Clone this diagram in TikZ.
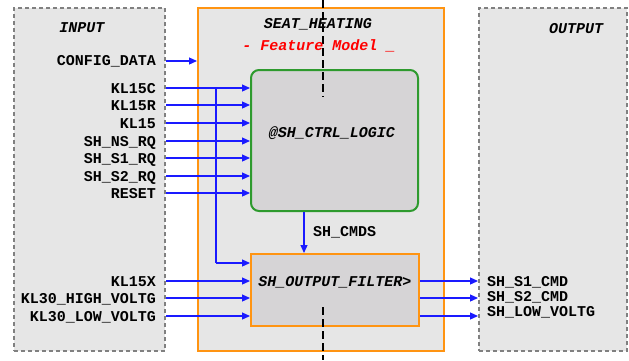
\documentclass[tikz,border=0pt]{standalone}
\usepackage{fontspec}
\setmonofont{Liberation Mono}
\usetikzlibrary{arrows.meta}
\definecolor{boxgray}{HTML}{E6E6E6}
\definecolor{innergray}{HTML}{D6D4D6}
\definecolor{borgray}{HTML}{808080}
\definecolor{orng}{HTML}{FF9412}
\definecolor{grn}{HTML}{2E9A2E}
\definecolor{sig}{HTML}{1A1AFF}
\tikzset{
  lbl/.style={font=\ttfamily\bfseries\fontsize{15}{17}\selectfont, inner sep=0pt, text height=10pt, text depth=0pt},
  ilbl/.style={font=\ttfamily\bfseries\itshape\fontsize{15}{17}\selectfont, inner sep=0pt},
  portbox/.style={draw=borgray, fill=boxgray, line width=2pt, dash pattern=on 4pt off 3pt},
  sig/.style={draw=sig, line width=1.2pt, -{Triangle[length=8pt,width=7pt]}},
  sigline/.style={draw=sig, line width=1.2pt},
}
\begin{document}
\begin{tikzpicture}[x=1pt,y=-1pt]
\useasboundingbox (0,0) rectangle (629,360);
% boxes
\node[portbox, minimum width=151pt, minimum height=343pt, anchor=north west, inner sep=0pt] (inbox) at (13,7) {};
\node[portbox, minimum width=148pt, minimum height=343pt, anchor=north west, inner sep=0pt] (outbox) at (478,7) {};
\node[draw=orng, fill=boxgray, line width=2pt, minimum width=246pt, minimum height=343pt, anchor=north west, inner sep=0pt] (seat) at (197,7) {};
\node[draw=grn, fill=innergray, line width=2pt, rounded corners=8pt, minimum width=167pt, minimum height=141pt, anchor=north west, inner sep=0pt] (logic) at (250,69) {};
\node[draw=orng, fill=innergray, line width=2pt, minimum width=168pt, minimum height=72pt, anchor=north west, inner sep=0pt] (filter) at (250,253) {};
% dashed centre line
\coordinate (dtop) at (323,0);
\coordinate (dmid) at (323,97);
\coordinate (dlow) at (323,307);
\coordinate (dbot) at (323,360);
\draw[line width=1.6pt, dash pattern=on 8pt off 4pt] (dtop) -- (dmid);
\draw[line width=1.6pt, dash pattern=on 8pt off 4pt] (dlow) -- (dbot);
% titles
\node[ilbl] (tin) at (82,28) {INPUT};
\node[ilbl] (tout) at (576,29) {OUTPUT};
\node[ilbl] (tseat) at (318,24) {SEAT\_HEATING};
\node[ilbl, text=red] (tfm) at (319,46) {- Feature Model \_};
\node[ilbl] (tlogic) at (332,133) {@SH\_CTRL\_LOGIC};
\node[ilbl] (tfilter) at (335,282) {SH\_OUTPUT\_FILTER>};
\node[lbl, anchor=west] (tcmds) at (313,231) {SH\_CMDS};
% input labels
\node[lbl, anchor=east] (cfg) at (156,60) {CONFIG\_DATA};
\node[lbl, anchor=east] (kc) at (156,88) {KL15C};
\node[lbl, anchor=east] (kr) at (156,105) {KL15R};
\node[lbl, anchor=east] (k) at (156,123) {KL15};
\node[lbl, anchor=east] (ns) at (156,141) {SH\_NS\_RQ};
\node[lbl, anchor=east] (s1) at (156,158) {SH\_S1\_RQ};
\node[lbl, anchor=east] (s2) at (156,176) {SH\_S2\_RQ};
\node[lbl, anchor=east] (rst) at (156,193) {RESET};
\node[lbl, anchor=east] (kx) at (156,281) {KL15X};
\node[lbl, anchor=east] (kh) at (156,298) {KL30\_HIGH\_VOLTG};
\node[lbl, anchor=east] (kl) at (156,316) {KL30\_LOW\_VOLTG};
% output labels
\node[lbl, anchor=west] (o1) at (487,281) {SH\_S1\_CMD};
\node[lbl, anchor=west] (o2) at (487,296) {SH\_S2\_CMD};
\node[lbl, anchor=west] (o3) at (487,311) {SH\_LOW\_VOLTG};
% input arrows
\draw[sig] (inbox.east |- 0,61) -- (seat.west |- 0,61);
\foreach \n/\yy in {kc/88, kr/105, k/123, ns/141, s1/158, s2/176, rst/193}{
  \draw[sig] (inbox.east |- 0,\yy) -- (logic.west |- 0,\yy);
}
\foreach \n/\yy in {kx/281, kh/298, kl/316}{
  \draw[sig] (inbox.east |- 0,\yy) -- (filter.west |- 0,\yy);
}
\coordinate (br) at (216,88);
\coordinate (brend) at (216,263);
\draw[sigline] (br) -- (brend);
\draw[sig] (brend) -- (filter.west |- brend);
% SH_CMDS
\draw[sig] (logic.south -| 304,0) -- (filter.north -| 304,0);
% output arrows
\foreach \yy in {281, 298, 316}{
  \draw[sig] (filter.east |- 0,\yy) -- (outbox.west |- 0,\yy);
}
\end{tikzpicture}
\end{document}
